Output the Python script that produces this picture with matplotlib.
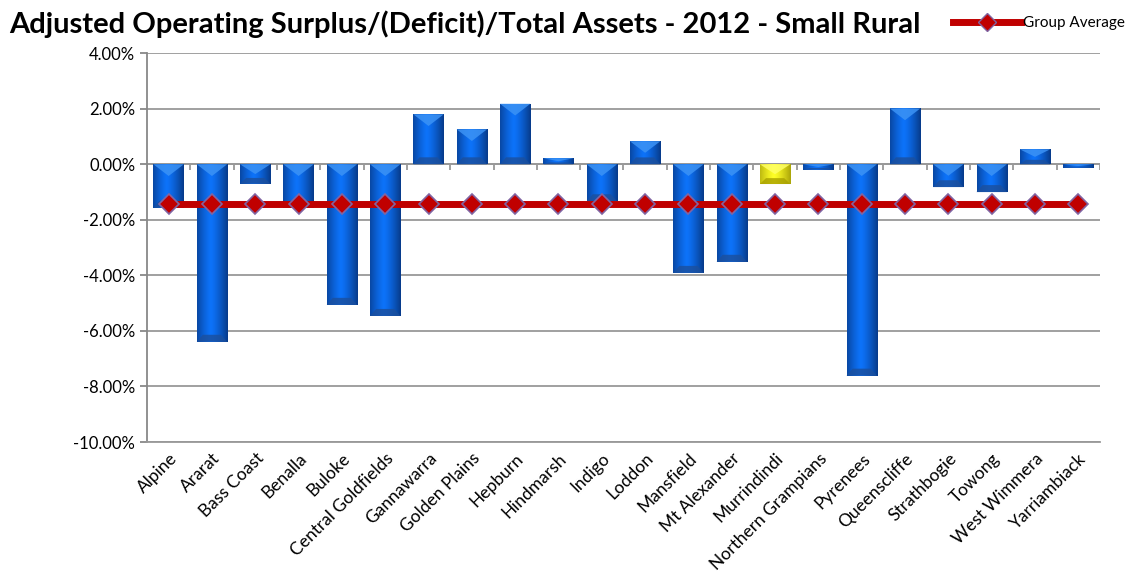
import numpy as np
import matplotlib
matplotlib.use('Agg')
import matplotlib.pyplot as plt
from matplotlib.patches import Polygon
from matplotlib.ticker import FuncFormatter, MultipleLocator
from matplotlib.lines import Line2D

councils = ['Alpine', 'Ararat', 'Bass Coast', 'Benalla', 'Buloke', 'Central Goldfields',
            'Gannawarra', 'Golden Plains', 'Hepburn', 'Hindmarsh', 'Indigo', 'Loddon',
            'Mansfield', 'Mt Alexander', 'Murrindindi', 'Northern Grampians', 'Pyrenees',
            'Queenscliffe', 'Strathbogie', 'Towong', 'West Wimmera', 'Yarriambiack']
surplus_pct = [-1.56, -6.39, -0.70, -1.56, -5.06, -5.46,
               1.80, 1.26, 2.18, 0.22, -1.33, 0.83,
               -3.91, -3.51, -0.71, -0.19, -7.61,
               2.01, -0.82, -1.00, 0.54, -0.12]
group_avg = [-1.43] * len(councils)
highlight = 'Murrindindi'

plt.rcParams['font.family'] = ['Lato', 'DejaVu Sans']

fig = plt.figure(figsize=(11.34, 5.85), dpi=100)
ax = fig.add_axes([0.1296, 0.2444, 0.8404, 0.6646])

x = np.arange(len(councils))
width = 0.7
colors = ['#e6d800' if c == highlight else '#0a62dc' for c in councils]
bars = ax.bar(x, surplus_pct, width=width, color=colors, zorder=2)

# bevelled look: dark right edge, light centre, lighter top cap, darker bottom cap
grad = np.linspace(0, 1, 64)
shade = np.clip(1.0 - 1.6 * np.abs(grad - 0.45) ** 1.3, 0, 1)
for b, col in zip(bars, colors):
    x0, w = b.get_x(), b.get_width()
    y0, h = b.get_y(), b.get_height()
    if col == '#0a62dc':
        dark, light = np.array([0.02, 0.15, 0.38]), np.array([0.05, 0.45, 0.98])
        top_c, bot_c = '#3c93f5', '#1c4f9c'
    else:
        dark, light = np.array([0.55, 0.52, 0.0]), np.array([1.0, 1.0, 0.15])
        top_c, bot_c = '#ffff66', '#a8a000'
    img = dark[None, :] + (light - dark)[None, :] * shade[:, None]
    im = ax.imshow(img[None, :, :], extent=[x0, x0 + w, y0, y0 + h],
                   aspect='auto', zorder=3, interpolation='bilinear')
    im.set_clip_path(b)
    bev = min(0.42, abs(h) / 2)
    top, bot = max(y0, y0 + h), min(y0, y0 + h)
    ax.add_patch(Polygon([[x0, top], [x0 + w, top], [x0 + w / 2, top - bev]],
                         closed=True, color=top_c, alpha=0.85, lw=0, zorder=4))
    ax.add_patch(Polygon([[x0, bot], [x0 + w, bot], [x0 + w * 0.8, bot + bev * 0.6],
                          [x0 + w * 0.2, bot + bev * 0.6]],
                         closed=True, color=bot_c, alpha=0.8, lw=0, zorder=4))

ax.plot(x, group_avg, color='#c00000', lw=5, zorder=5, solid_capstyle='butt',
        marker='D', markersize=10, markerfacecolor='#c00000',
        markeredgecolor='#8064a2', markeredgewidth=1.2)

ax.set_xlim(-0.5, len(councils) - 0.5)
ax.set_ylim(-10, 4)
ax.yaxis.set_major_locator(MultipleLocator(2))
ax.yaxis.set_major_formatter(FuncFormatter(lambda v, p: f'{v:.2f}%'))
ax.grid(axis='y', color='#999999', lw=1.3, zorder=0)
ax.set_axisbelow(True)
for s in ['top', 'right']:
    ax.spines[s].set_visible(False)
ax.spines['left'].set_color('#888888')
ax.spines['left'].set_linewidth(1.3)
ax.spines['bottom'].set_color('#999999')
ax.spines['bottom'].set_linewidth(1.3)
ax.tick_params(axis='y', colors='#888888', length=5, width=1.3, labelcolor='black', labelsize=12)
ax.set_xticks(x)
ax.set_xticklabels(councils, rotation=45, ha='right', rotation_mode='anchor', fontsize=12.5)
ax.tick_params(axis='x', length=0, pad=6)

# category boundary ticks along the zero line
ax.axhline(0, color='#999999', lw=1.3, zorder=1)
ax.vlines(np.arange(len(councils) + 1) - 0.5, -0.22, 0, color='#999999', lw=1.3, zorder=1)

fig.text(0.008, 0.958, 'Adjusted Operating Surplus/(Deficit)/Total Assets - 2012 - Small Rural',
         fontsize=21, fontweight='bold', va='center', ha='left')
handle = Line2D([], [], color='#c00000', lw=5, marker='D', markersize=9,
                markerfacecolor='#c00000', markeredgecolor='#8064a2')
fig.legend([handle], ['Group Average'], loc='center right', bbox_to_anchor=(1.0, 0.96),
           frameon=False, fontsize=11, handlelength=4.5, handletextpad=0.1, borderaxespad=0.2)

fig.savefig('out.png', dpi=100)
